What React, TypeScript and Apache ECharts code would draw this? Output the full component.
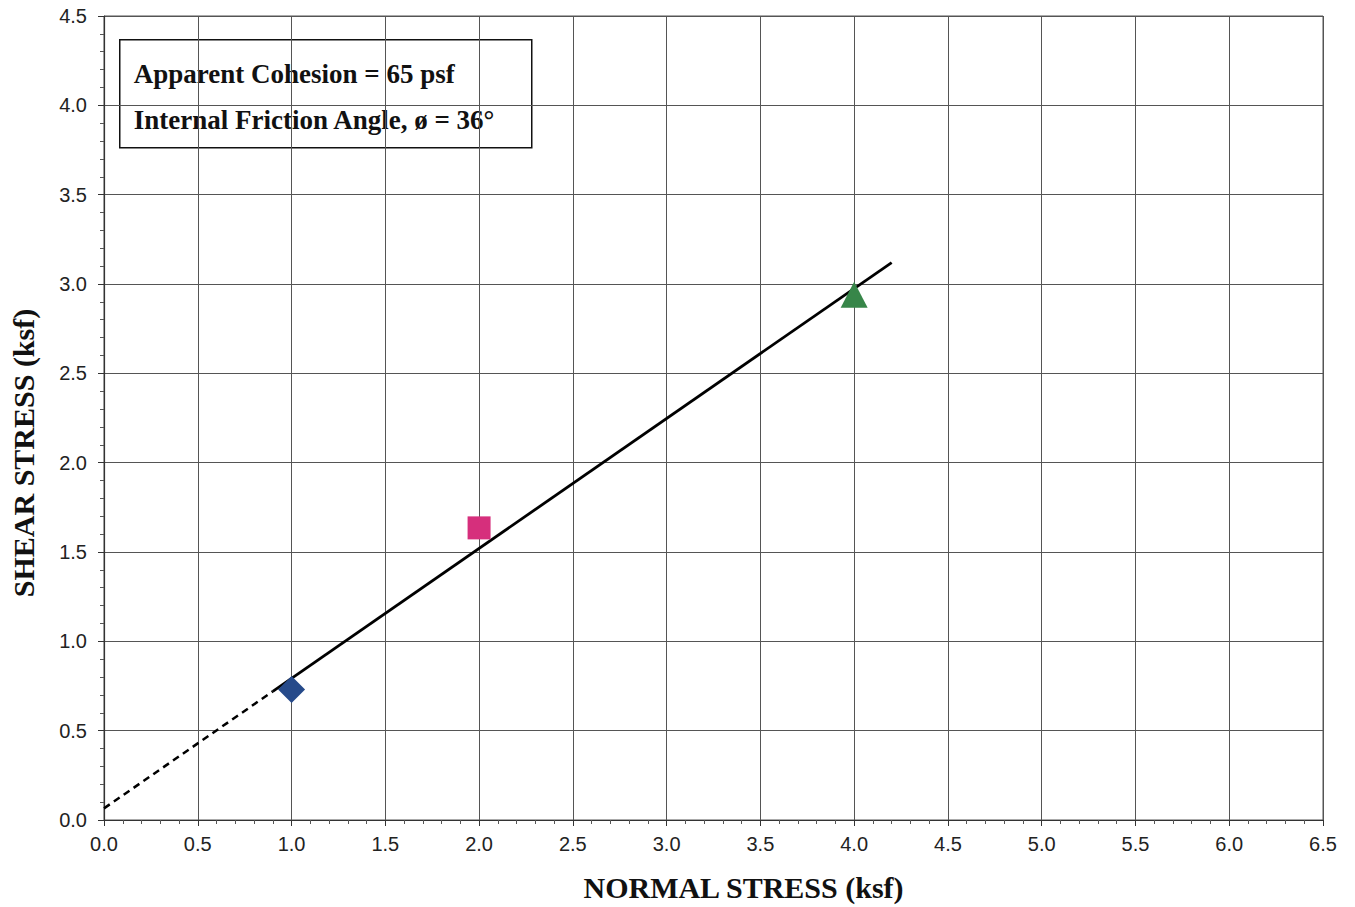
import React, { useEffect, useRef } from "react";
import * as echarts from "echarts";

const diamondPoint = [[1.0, 0.73]];
const squarePoint = [[2.0, 1.635]];
const trianglePoint = [[4.0, 2.94]];
const envelopeDashed = [[0, 0.065], [0.9, 0.72]];
const envelopeSolid = [[0.9, 0.72], [4.2, 3.12]];
const infoLines = ["Apparent Cohesion = 65 psf", "Internal Friction Angle, ø = 36°"];
const xTitle = "NORMAL STRESS (ksf)";
const yTitle = "SHEAR STRESS (ksf)";

export default function App() {
  const ref = useRef<HTMLDivElement>(null);
  useEffect(() => {
    if (!ref.current) return;
    const chart = echarts.init(ref.current, null, { renderer: "svg" });
    const serif = "'Liberation Serif', 'Times New Roman', serif";
    const sans = "'Liberation Sans', Arial, sans-serif";
    const gridColor = "#555555";
    chart.setOption({
      animation: false,
      backgroundColor: "#ffffff",
      grid: {
        left: 104,
        right: 32,
        top: 16,
        bottom: 86,
        show: true,
        borderColor: gridColor,
        borderWidth: 1,
        backgroundColor: "#ffffff",
      },
      xAxis: {
        type: "value",
        min: 0,
        max: 6.5,
        interval: 0.5,
        name: xTitle,
        nameLocation: "middle",
        nameGap: 52,
        nameTextStyle: {
          fontFamily: serif,
          fontWeight: "bold",
          fontSize: 30,
          color: "#111",
          padding: [0, 0, 0, 60],
        },
        axisLine: { show: true, lineStyle: { color: "#333", width: 1.2 } },
        axisTick: { show: true, length: 6, lineStyle: { color: "#333" } },
        minorTick: { show: true, splitNumber: 5, length: 4, lineStyle: { color: "#555" } },
        axisLabel: {
          fontFamily: sans,
          fontSize: 20,
          color: "#222",
          margin: 14,
          formatter: (v: number) => v.toFixed(1),
        },
        splitLine: { show: true, lineStyle: { color: gridColor, width: 1 } },
      },
      yAxis: {
        type: "value",
        min: 0,
        max: 4.5,
        interval: 0.5,
        name: yTitle,
        nameLocation: "middle",
        nameGap: 66,
        nameTextStyle: {
          fontFamily: serif,
          fontWeight: "bold",
          fontSize: 30,
          color: "#111",
          padding: [0, 70, 0, 0],
        },
        axisLine: { show: true, lineStyle: { color: "#333", width: 1.2 } },
        axisTick: { show: true, length: 6, lineStyle: { color: "#333" } },
        minorTick: { show: true, splitNumber: 5, length: 4, lineStyle: { color: "#555" } },
        axisLabel: {
          fontFamily: sans,
          fontSize: 20,
          color: "#222",
          margin: 17,
          formatter: (v: number) => v.toFixed(1),
        },
        splitLine: { show: true, lineStyle: { color: gridColor, width: 1 } },
      },
      series: [
        {
          type: "line",
          data: envelopeDashed,
          symbol: "none",
          lineStyle: { color: "#000", width: 2.5, type: [7, 5] },
          z: 3,
        },
        {
          type: "line",
          data: envelopeSolid,
          symbol: "none",
          lineStyle: { color: "#000", width: 2.8 },
          z: 3,
        },
        {
          type: "scatter",
          data: diamondPoint,
          symbol: "diamond",
          symbolSize: [27, 27],
          itemStyle: { color: "#264a8a", opacity: 1 },
          z: 4,
        },
        {
          type: "scatter",
          data: squarePoint,
          symbol: "rect",
          symbolSize: [23, 23],
          itemStyle: { color: "#d62f7c", opacity: 1 },
          z: 4,
        },
        {
          type: "scatter",
          data: trianglePoint,
          symbol: "triangle",
          symbolSize: [27, 26],
          itemStyle: { color: "#378649", opacity: 1 },
          z: 4,
        },
      ],
      graphic: [
        {
          type: "group",
          left: 119,
          top: 39,
          z: 10,
          children: [
            {
              type: "rect",
              shape: { x: 0, y: 0, width: 412, height: 108 },
              style: { fill: "#fff", stroke: "#111", lineWidth: 1.5 },
            },
            {
              type: "text",
              x: 14,
              y: 34,
              style: {
                text: infoLines[0],
                font: `bold 27px ${serif}`,
                fill: "#111",
                verticalAlign: "middle",
              },
            },
            {
              type: "text",
              x: 14,
              y: 80,
              style: {
                text: infoLines[1],
                font: `bold 27px ${serif}`,
                fill: "#111",
                verticalAlign: "middle",
              },
            },
          ],
        },
      ],
    });
    return () => chart.dispose();
  }, []);
  return (
    <div
      ref={ref}
      style={{ position: "fixed", left: 0, top: 0, width: 1355, height: 907 }}
    />
  );
}
